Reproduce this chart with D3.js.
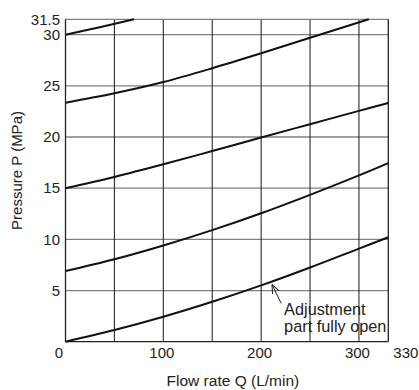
<!DOCTYPE html>
<html>
<head>
<meta charset="utf-8">
<script src="https://cdn.jsdelivr.net/npm/d3@7"></script>
<style>
  body { margin: 0; background: #fff; }
  text { font-family: "Liberation Sans", Arial, sans-serif; fill: #222; }
</style>
</head>
<body>
<div id="chart"></div>
<script>
// chart values
var flowTicks = [0, 100, 200, 300, 330];
var flowGrid = [50, 100, 150, 200, 250, 300];
var pressureTicks = [5, 10, 15, 20, 25, 30, 31.5];
var pressureGrid = [5, 10, 15, 20, 25, 30];

var curveTop = [[0, 30], [35, 30.72], [70, 31.5]];
var curve23 = [[0, 23.35], [50, 24.27], [100, 25.37], [150, 26.72], [200, 28.18], [250, 29.7], [310, 31.5]];
var curve15 = [[0, 15], [50, 16.1], [100, 17.33], [150, 18.63], [200, 19.95], [250, 21.25], [300, 22.55], [330, 23.33]];
var curve7 = [[0, 6.9], [50, 8.05], [100, 9.4], [150, 10.9], [200, 12.55], [250, 14.35], [300, 16.25], [330, 17.45]];
var curveOpen = [[0, 0], [50, 1.14], [100, 2.44], [150, 3.9], [200, 5.5], [250, 7.25], [300, 9.1], [330, 10.2]];
var curves = [curveTop, curve23, curve15, curve7, curveOpen];

var noteLines = ["Adjustment", "part fully open"];
var noteTip = [211, 5.6];
var noteTail = [220.5, 3.75];
var noteAt = [223.5, 2.6];

var svgWidth = 419;
var svgHeight = 390;

var margin = { top: 19.3, right: 30.7, bottom: 48.3, left: 65.5 };
var width = svgWidth - margin.left - margin.right;
var height = svgHeight - margin.top - margin.bottom;

var svg = d3.select("#chart")
  .append("svg")
  .attr("width", svgWidth)
  .attr("height", svgHeight);

var chartGroup = svg.append("g")
  .attr("transform", `translate(${margin.left}, ${margin.top})`);

var x = d3.scaleLinear().domain([0, 330]).range([0, width]);
var y = d3.scaleLinear().domain([0, 31.5]).range([height, 0]);

// grid: horizontal grey, vertical dark
chartGroup.selectAll(".hgrid")
  .data(pressureGrid)
  .enter()
  .append("line")
  .attr("x1", 0)
  .attr("x2", width)
  .attr("y1", d => y(d))
  .attr("y2", d => y(d))
  .attr("stroke", "#808080")
  .attr("stroke-width", 1.3);

chartGroup.selectAll(".vgrid")
  .data(flowGrid)
  .enter()
  .append("line")
  .attr("x1", d => x(d))
  .attr("x2", d => x(d))
  .attr("y1", 0)
  .attr("y2", height)
  .attr("stroke", "#2a2a2a")
  .attr("stroke-width", 1.1);

// frame
chartGroup.append("line")
  .attr("x1", 0).attr("x2", width)
  .attr("y1", y(31.5)).attr("y2", y(31.5))
  .attr("stroke", "#808080").attr("stroke-width", 1.3);
chartGroup.append("line")
  .attr("x1", 0).attr("x2", width)
  .attr("y1", y(0)).attr("y2", y(0))
  .attr("stroke", "#222").attr("stroke-width", 1.3);
chartGroup.append("line")
  .attr("x1", x(0)).attr("x2", x(0))
  .attr("y1", 0).attr("y2", height)
  .attr("stroke", "#222").attr("stroke-width", 1.3);
chartGroup.append("line")
  .attr("x1", x(330)).attr("x2", x(330))
  .attr("y1", 0).attr("y2", height)
  .attr("stroke", "#222").attr("stroke-width", 1.3);

// curves
var line = d3.line()
  .x(d => x(d[0]))
  .y(d => y(d[1]))
  .curve(d3.curveCatmullRom.alpha(0.5));

chartGroup.selectAll(".curve")
  .data(curves)
  .enter()
  .append("path")
  .attr("d", line)
  .attr("fill", "none")
  .attr("stroke", "#111")
  .attr("stroke-width", 2);

// axes
var bottomAxis = d3.axisBottom(x)
  .tickValues(flowTicks)
  .tickSize(0)
  .tickPadding(6)
  .tickFormat(d => d);

var xAxis = chartGroup.append("g")
  .attr("transform", `translate(0, ${height})`)
  .call(bottomAxis);

xAxis.select(".domain").remove();
xAxis.selectAll("text")
  .attr("font-size", "15px")
  .attr("font-family", "Liberation Sans, Arial, sans-serif")
  .attr("fill", "#222")
  .attr("dx", d => d === 0 ? -7 : (d === 330 ? 17 : -2));

var leftAxis = d3.axisLeft(y)
  .tickValues(pressureTicks)
  .tickSize(0)
  .tickPadding(5.5)
  .tickFormat(d => d);

var yAxis = chartGroup.append("g").call(leftAxis);
yAxis.select(".domain").remove();
yAxis.selectAll("text")
  .attr("font-size", "15px")
  .attr("font-family", "Liberation Sans, Arial, sans-serif")
  .attr("fill", "#222");

// axis titles
chartGroup.append("text")
  .attr("transform", "rotate(-90)")
  .attr("x", -(height / 2) + 10)
  .attr("y", -margin.left + 22)
  .attr("text-anchor", "middle")
  .attr("font-size", "15px")
  .text("Pressure P (MPa)");

chartGroup.append("text")
  .attr("x", width / 2 + 6)
  .attr("y", height + 44)
  .attr("text-anchor", "middle")
  .attr("font-size", "15.5px")
  .text("Flow rate Q (L/min)");

// annotation with open arrow
svg.append("defs").append("marker")
  .attr("id", "arrow")
  .attr("viewBox", "0 0 10 10")
  .attr("refX", 10)
  .attr("refY", 5)
  .attr("markerWidth", 9)
  .attr("markerHeight", 9)
  .attr("markerUnits", "userSpaceOnUse")
  .attr("orient", "auto")
  .append("path")
  .attr("d", "M0,1 L10,5 L0,9")
  .attr("fill", "none")
  .attr("stroke", "#222")
  .attr("stroke-width", 1.1);

chartGroup.append("line")
  .attr("x1", x(noteTail[0]))
  .attr("y1", y(noteTail[1]))
  .attr("x2", x(noteTip[0]))
  .attr("y2", y(noteTip[1]))
  .attr("stroke", "#222")
  .attr("stroke-width", 1)
  .attr("marker-end", "url(#arrow)");

var note = chartGroup.append("text")
  .attr("x", x(noteAt[0]))
  .attr("y", y(noteAt[1]))
  .attr("font-size", "16.3px");

note.selectAll("tspan")
  .data(noteLines)
  .enter()
  .append("tspan")
  .attr("x", x(noteAt[0]))
  .attr("dy", (d, i) => i === 0 ? 0 : 16.5)
  .text(d => d);
</script>
</body>
</html>
